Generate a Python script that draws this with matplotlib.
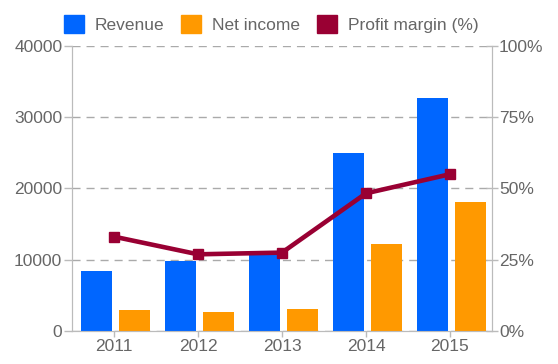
import numpy as np
import matplotlib.pyplot as plt
from matplotlib.patches import Patch
from matplotlib.ticker import FuncFormatter

plt.rcParams['font.family'] = ['Liberation Sans', 'DejaVu Sans']

# data
years = ['2011', '2012', '2013', '2014', '2015']
revenue = [8420, 9820, 11130, 25030, 32660]
net_income = [2900, 2710, 3130, 12170, 18150]
profit_margin = [33.1, 26.9, 27.5, 48.3, 55.0]

blue = '#0066ff'
orange = '#ff9900'
maroon = '#990033'
axis_gray = '#bbbbbb'
text_gray = '#666666'

fig = plt.figure(figsize=(5.58, 3.64), dpi=100)
ax = fig.add_axes([0.129, 0.0907, 0.7527, 0.783])
ax2 = ax.twinx()

x = np.arange(len(years))
w = 0.375
ax.bar(x - 0.21, revenue, w, color=blue, zorder=3)
ax.bar(x + 0.244, net_income, w, color=orange, zorder=3)

ax.set_xlim(-0.5, len(years) - 0.5)
ax.set_ylim(0, 40000)
ax.set_yticks([0, 10000, 20000, 30000, 40000])
ax.set_xticks(x)
ax.set_xticklabels(years)
ax.yaxis.grid(True, color='#aaaaaa', linestyle=(0, (5.8, 4.3)), linewidth=1)
ax.set_axisbelow(True)

ax2.plot(x, profit_margin, color=maroon, linewidth=3.3, marker='s', markersize=7, zorder=5)
ax2.set_ylim(0, 100)
ax2.set_yticks([0, 25, 50, 75, 100])
ax2.yaxis.set_major_formatter(FuncFormatter(lambda v, p: f'{int(v)}%'))

for a in (ax, ax2):
    for s in a.spines.values():
        s.set_color(axis_gray)
    a.spines['top'].set_visible(False)
    a.tick_params(colors=axis_gray, labelcolor=text_gray, labelsize=12.5, width=1)
ax.tick_params(axis='x', length=4, pad=2)
ax.tick_params(axis='y', length=6, pad=1)
ax2.tick_params(axis='y', direction='inout', length=8, pad=1)

handles = [Patch(color=blue, label='Revenue'),
           Patch(color=orange, label='Net income'),
           Patch(color=maroon, label='Profit margin (%)')]
fig.legend(handles=handles, loc='center', bbox_to_anchor=(0.486, 0.934), ncol=3,
           frameon=False, fontsize=12.5, labelcolor=text_gray,
           handlelength=1.15, handleheight=1.15, handletextpad=0.6, columnspacing=1.0)

fig.savefig('out.png', dpi=100)
